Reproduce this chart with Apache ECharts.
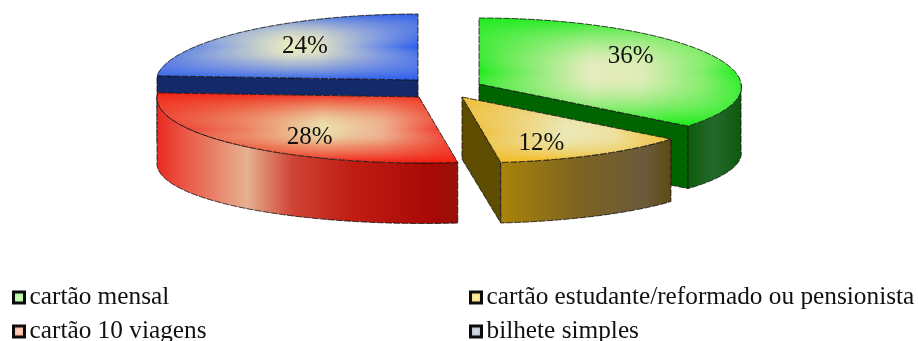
<!DOCTYPE html>
<html>
<head>
<meta charset="utf-8">
<style>html,body{margin:0;padding:0;background:#fff}#c{width:918px;height:341px}</style>
<script src="https://cdn.jsdelivr.net/npm/echarts@6/dist/echarts.min.js"></script>
</head>
<body>
<div id="c"></div>
<script>
// Ticket types and their share of passengers, clockwise from twelve o'clock.
const ticketNames = ['cartão mensal', 'cartão estudante/reformado ou pensionista', 'cartão 10 viagens', 'bilhete simples'];
const ticketShares = [36, 12, 28, 24];

// Exploded apex of each wedge, and where its label sits inside the ellipse.
const apexes = [[479, 84], [462, 97], [419, 97], [418, 80]];
const labelFractions = [[0.64, 1.0], [0.63, 0.79], [0.61, 0.81], [0.63, 0.72]];

// Shared projection of the tilted disc.
const RX = 262, RY = 66, PERSPECTIVE = 0.03, FRONT_SHEAR = 5, SIDE_DROP = 66, BOTTOM_RY = 60.5, APEX_DROP = 62;

const lin = (x0, y0, x1, y1, stops) => new echarts.graphic.LinearGradient(x0, y0, x1, y1,
  stops.map(s => ({ offset: s[0], color: s[1] })));

// Colours per wedge: top face (across and down), walls.
const paints = [
  {
    across: [[0, '#20ea20'], [0.12, '#60ec50'], [0.42, '#e8ecc0'], [0.62, '#e0ecb8'], [0.85, '#80ee68'], [1, '#18ee18']],
    down: [[0, 'rgba(30,236,30,1)'], [0.3, 'rgba(120,236,100,0.35)'], [0.5, 'rgba(230,236,190,0)'], [0.72, 'rgba(120,236,100,0.4)'], [1, 'rgba(20,238,20,1)']],
    wall: [[0, '#0d5c0d'], [0.5, '#24692a'], [1, '#0c5a0c']], cut: '#006400'
  },
  {
    across: [[0, '#f0b828'], [0.25, '#eed070'], [0.5, '#ebe9b8'], [0.72, '#eee0a0'], [1, '#f0bc28']],
    down: [[0, 'rgba(238,190,60,0.7)'], [0.55, 'rgba(236,230,180,0)'], [0.8, 'rgba(240,200,80,0.5)'], [1, 'rgba(244,184,20,1)']],
    wall: [[0, '#a88408'], [0.45, '#7e6420'], [0.85, '#6a5a3a'], [1, '#5e4a10']], cut: '#5e4c00'
  },
  {
    across: [[0, '#ee2a22'], [0.3, '#ec8060'], [0.55, '#ebe0ae'], [0.75, '#eeb090'], [0.95, '#f03428'], [1, '#f02a20']],
    down: [[0, 'rgba(240,32,20,1)'], [0.25, 'rgba(238,90,60,0.45)'], [0.52, 'rgba(235,225,175,0)'], [0.75, 'rgba(238,90,60,0.5)'], [1, 'rgba(244,24,16,1)']],
    wall: [[0, '#e82a22'], [0.1, '#ea5a48'], [0.3, '#e6b090'], [0.45, '#cf4436'], [0.65, '#c01c12'], [0.92, '#a80806'], [1, '#961208']], cut: '#7a0a06'
  },
  {
    across: [[0, '#2c5ee8'], [0.2, '#7f9ae0'], [0.5, '#ebecc0'], [0.62, '#dfe2c4'], [0.85, '#6f8ee6'], [1, '#2a5cee']],
    down: [[0, 'rgba(44,94,232,0.95)'], [0.3, 'rgba(160,176,214,0.35)'], [0.5, 'rgba(235,236,192,0)'], [0.72, 'rgba(130,152,222,0.5)'], [1, 'rgba(40,92,238,1)']],
    wall: [[0, '#14296a'], [1, '#14296a']], cut: '#14296a'
  }
];

// Angles are clockwise from north, in degrees.
const rad = d => d * Math.PI / 180;
const spreadX = (c, a) => {
  const s = Math.sin(rad(a)), k = Math.cos(rad(a));
  return c[0] + RX * s * (1 - PERSPECTIVE * k) + FRONT_SHEAR * Math.max(0, -k);
};
const topPoint = (c, a) => [spreadX(c, a), c[1] - RY * Math.cos(rad(a))];
const bottomPoint = (c, a) => [spreadX(c, a), c[1] + SIDE_DROP - BOTTOM_RY * Math.cos(rad(a))];
const sweep = (from, to, fn, c) => {
  const pts = [], steps = Math.max(2, Math.ceil(Math.abs(to - from)));
  for (let i = 0; i <= steps; i++) pts.push(fn(c, from + (to - from) * i / steps));
  return pts;
};

const OUTLINE = { stroke: '#111', lineWidth: 0.8, lineDash: [7, 1.2] };

function wedgeRenderer(index) {
  return function (params, api) {
    const share = api.value(0);
    const before = ticketShares.slice(0, index).reduce((a, b) => a + b, 0);
    const a0 = before * 3.6, a1 = a0 + share * 3.6;
    const c = apexes[index], paint = paints[index];
    const apexLow = [c[0], c[1] + APEX_DROP];
    const children = [];

    // Straight cut walls: only the ones whose face turns towards the viewer.
    [[a0, -1], [a1, 1]].forEach(([a, side]) => {
      if (Math.sin(rad(a)) * side <= 0.02) return;
      children.push({
        type: 'polygon',
        shape: { points: [c, topPoint(c, a), bottomPoint(c, a), apexLow] },
        style: Object.assign({ fill: paint.cut }, OUTLINE)
      });
    });

    // Rim, front half of the ellipse only.
    const f0 = Math.max(a0, 90), f1 = Math.min(a1, 270);
    if (f1 > f0) {
      children.push({
        type: 'polygon',
        shape: { points: sweep(f0, f1, topPoint, c).concat(sweep(f1, f0, bottomPoint, c)) },
        style: Object.assign({ fill: lin(0, 0, 1, 0, paint.wall) }, OUTLINE)
      });
    }

    // Top face: a horizontal wash with a vertical wash over it.
    const face = [c].concat(sweep(a0, a1, topPoint, c));
    children.push({ type: 'polygon', shape: { points: face }, style: { fill: lin(0, 0, 1, 0, paint.across) } });
    children.push({ type: 'polygon', shape: { points: face }, style: Object.assign({ fill: lin(0, 0, 0, 1, paint.down) }, OUTLINE) });

    const mid = rad((a0 + a1) / 2), frac = labelFractions[index];
    children.push({
      type: 'text',
      style: {
        text: share + '%',
        x: c[0] + RX * Math.sin(mid) * frac[0],
        y: c[1] - RY * Math.cos(mid) * frac[1] + 1,
        align: 'center', verticalAlign: 'middle',
        font: '25px "Liberation Serif"', fill: '#111'
      }
    });
    return { type: 'group', children };
  };
}

const drawOrder = [3, 2, 0, 1];
const swatches = [
  ['#d4ffb8', '#8fe880'], ['#fdeea8', '#f0cf60'], ['#ffd8c0', '#f49a78'], ['#dfe2d8', '#8ea4e0']
];
const legendSlots = [[12, 285], [469, 285], [12, 319], [469, 319]];

const legends = ticketNames.map((name, i) => ({
  left: legendSlots[i][0],
  top: legendSlots[i][1],
  selectedMode: false,
  padding: 0,
  itemWidth: 11,
  itemHeight: 11,
  itemGap: 0,
  textStyle: { fontFamily: 'Liberation Serif', fontSize: 25.3, color: '#111', padding: [6, 0, 0, 0] },
  data: [{
    name,
    icon: 'rect',
    itemStyle: {
      color: new echarts.graphic.RadialGradient(0.5, 0.5, 0.7, [
        { offset: 0, color: swatches[i][0] }, { offset: 1, color: swatches[i][1] }]),
      borderColor: '#0c0c0c',
      borderWidth: 3
    }
  }]
}));

const chart = echarts.init(document.getElementById('c'), null, { renderer: 'canvas' });
chart.setOption({
  animation: false,
  legend: legends,
  series: drawOrder.map(i => ({
    type: 'custom',
    name: ticketNames[i],
    coordinateSystem: 'none',
    renderItem: wedgeRenderer(i),
    data: [[ticketShares[i]]],
    silent: true
  }))
});
</script>
</body>
</html>
